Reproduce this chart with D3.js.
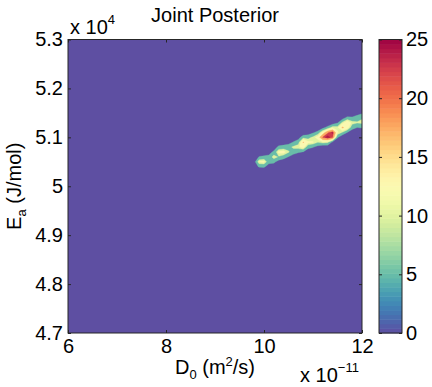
<!DOCTYPE html>
<html>
<head>
<meta charset="utf-8">
<script src="https://cdn.jsdelivr.net/npm/d3@7"></script>
<style>
  body { margin: 0; background: #fff; }
  text { font-family: 'Liberation Sans', Arial, sans-serif; fill: #000; }
  .axis path { display: none; }
  .axis line { stroke: #262626; }
</style>
</head>
<body>
<svg id="chart" width="432" height="387"></svg>
<script>

// axis ticks and labels
var xTicks = [6, 8, 10, 12];
var xTickLabels = ['6', '8', '10', '12'];
var yTicks = [4.7, 4.8, 4.9, 5.0, 5.1, 5.2, 5.3];
var yTickLabels = ['4.7', '4.8', '4.9', '5', '5.1', '5.2', '5.3'];
var cbTicks = [0, 5, 10, 15, 20, 25];

// filled contour levels
var levels = [5, 10, 12.5, 17.5, 22.5, 24];

// posterior density, everything else is 0
// grid spacing: 0.1 (x 1e-11) by 0.01 (x 1e4)
var ridgeX = [9.7, 9.8, 9.9, 10.0, 10.1, 10.2, 10.3, 10.4, 10.5, 10.6, 10.7, 10.8,
  10.9, 11.0, 11.1, 11.2, 11.3, 11.4, 11.5, 11.6, 11.7, 11.8, 11.9, 12.0];
var ridgeY = [5.02, 5.03, 5.04, 5.05, 5.06, 5.07, 5.08, 5.09, 5.10, 5.11, 5.12,
  5.13, 5.14, 5.15, 5.16, 5.17];
// one row per ridgeX, one value per ridgeY
var ridgeZ = [
  [0, 0, 0, 0, 0, 0, 0, 0, 0, 0, 0, 0, 0, 0, 0, 0],
  [0, 0.3, 2.8, 2.8, 0.3, 0, 0, 0, 0, 0, 0, 0, 0, 0, 0, 0],
  [0, 0, 5.5, 13, 5.5, 0, 0, 0, 0, 0, 0, 0, 0, 0, 0, 0],
  [0, 0, 6, 13.5, 6.5, 0, 0, 0, 0, 0, 0, 0, 0, 0, 0, 0],
  [0, 0, 2.3, 6.8, 6.8, 2.3, 0, 0, 0, 0, 0, 0, 0, 0, 0, 0],
  [0, 0, 1.1, 6.5, 12, 6.5, 1.1, 0, 0, 0, 0, 0, 0, 0, 0, 0],
  [0, 0, 0, 2.7, 9.5, 13.6, 6.8, 0, 0, 0, 0, 0, 0, 0, 0, 0],
  [0, 0, 0, 1.3, 7.6, 14, 7.6, 1.3, 0, 0, 0, 0, 0, 0, 0, 0],
  [0, 0, 0, 0, 4.7, 10.5, 8.5, 2.6, 0, 0, 0, 0, 0, 0, 0, 0],
  [0, 0, 0, 0, 2.2, 7.6, 10.9, 5.5, 0, 0, 0, 0, 0, 0, 0, 0],
  [0, 0, 0, 0, 0, 5.9, 11.8, 8.3, 2.4, 0, 0, 0, 0, 0, 0, 0],
  [0, 0, 0, 0, 0, 4.8, 14.3, 18.1, 8.6, 0, 0, 0, 0, 0, 0, 0],
  [0, 0, 0, 0, 0, 0.6, 7, 13.4, 8.3, 1.9, 0, 0, 0, 0, 0, 0],
  [0, 0, 0, 0, 0, 0, 5.5, 12.8, 10.9, 4.1, 0, 0, 0, 0, 0, 0],
  [0, 0, 0, 0, 0, 0, 2.9, 10.2, 14.5, 7.3, 0, 0, 0, 0, 0, 0],
  [0, 0, 0, 0, 0, 0, 1.1, 12, 22.9, 14.2, 3.3, 0, 0, 0, 0, 0],
  [0, 0, 0, 0, 0, 0, 1, 11, 25, 22, 7, 0, 0, 0, 0, 0],
  [0, 0, 0, 0, 0, 0, 0, 3.5, 23, 24.5, 12, 2, 0, 0, 0, 0],
  [0, 0, 0, 0, 0, 0, 0, 0, 5.8, 13.1, 11.6, 4.4, 0, 0, 0, 0],
  [0, 0, 0, 0, 0, 0, 0, 0, 0.9, 9.5, 18.5, 11.2, 2.6, 0, 0, 0],
  [0, 0, 0, 0, 0, 0, 0, 0, 0, 4.9, 15, 16, 6.5, 0, 0, 0],
  [0, 0, 0, 0, 0, 0, 0, 0, 0, 1.6, 7.1, 11.5, 6, 0.5, 0, 0],
  [0, 0, 0, 0, 0, 0, 0, 0, 0, 0, 5, 10.5, 8, 2, 0, 0],
  [0, 0, 0, 0, 0, 0, 0, 0, 0, 0, 5.5, 11, 9.5, 4, 0.5, 0]
];

var svg = d3.select('#chart');

// plot area
var plotL = 68, plotR = 362, plotT = 39.5, plotB = 333;
var fontSize = '20px', smallSize = '13px';

var x = d3.scaleLinear()
  .domain([6, 12])
  .range([plotL, plotR]);

var y = d3.scaleLinear()
  .domain([4.7, 5.3])
  .range([plotB, plotT]);

// colormap, spectral reversed (blue low, red high)
var cmax = 25;
var color = function (v) {
  return d3.interpolateSpectral(1 - v / cmax);
};

// build the full grid (x 6..12, y 4.7..5.3)
var nx = 61, ny = 61;
var grid = new Array(nx * ny).fill(0);
ridgeX.forEach(function (xv, k) {
  var i = Math.round((xv - 6) / 0.1);
  ridgeY.forEach(function (yv, r) {
    var j = Math.round((yv - 4.7) / 0.01);
    grid[j * nx + i] = ridgeZ[k][r];
  });
});

// grid coords -> data coords (value i sits at i + 0.5)
var gx = d3.scaleLinear().domain([0.5, nx - 0.5]).range([6, 12]);
var gy = d3.scaleLinear().domain([0.5, ny - 0.5]).range([4.7, 5.3]);

var path = d3.geoPath(d3.geoTransform({
  point: function (px, py) {
    this.stream.point(x(gx(px)), y(gy(py)));
  }
}));

svg.append('clipPath')
  .attr('id', 'plotclip')
  .append('rect')
  .attr('x', plotL)
  .attr('y', plotT)
  .attr('width', plotR - plotL)
  .attr('height', plotB - plotT);

var plot = svg.append('g')
  .attr('clip-path', 'url(#plotclip)');

// lowest band
plot.append('rect')
  .attr('x', plotL)
  .attr('y', plotT)
  .attr('width', plotR - plotL)
  .attr('height', plotB - plotT)
  .attr('fill', color(0));

var contours = d3.contours()
  .size([nx, ny])
  .thresholds(levels)(grid);

plot.selectAll('path.band')
  .data(contours)
  .enter()
  .append('path')
  .attr('class', 'band')
  .attr('d', path)
  .attr('fill', function (d) { return color(d.value); })
  .attr('stroke', function (d) { return color(d.value); })
  .attr('stroke-width', 0.3);

// axes, ticks inside
var tickFmtX = function (d, i) { return xTickLabels[i]; };
var tickFmtY = function (d, i) { return yTickLabels[i]; };

svg.append('g')
  .attr('class', 'axis')
  .attr('transform', 'translate(0,' + plotB + ')')
  .call(d3.axisBottom(x).tickValues(xTicks).tickSize(-3).tickPadding(6).tickFormat(tickFmtX))
  .selectAll('text')
  .style('font-size', fontSize)
  .attr('fill', '#000');

svg.append('g')
  .attr('class', 'axis')
  .attr('transform', 'translate(0,' + plotT + ')')
  .call(d3.axisTop(x).tickValues(xTicks).tickSize(-3).tickFormat(''));

svg.append('g')
  .attr('class', 'axis')
  .attr('transform', 'translate(' + plotL + ',0)')
  .call(d3.axisLeft(y).tickValues(yTicks).tickSize(-3).tickPadding(5).tickFormat(tickFmtY))
  .selectAll('text')
  .style('font-size', fontSize)
  .attr('fill', '#000');

svg.append('g')
  .attr('class', 'axis')
  .attr('transform', 'translate(' + plotR + ',0)')
  .call(d3.axisRight(y).tickValues(yTicks).tickSize(-3).tickFormat(''));

// box
svg.append('rect')
  .attr('x', plotL)
  .attr('y', plotT)
  .attr('width', plotR - plotL)
  .attr('height', plotB - plotT)
  .attr('fill', 'none')
  .attr('stroke', '#262626')
  .attr('stroke-width', 1);

// title
svg.append('text')
  .attr('x', (plotL + plotR) / 2)
  .attr('y', 22)
  .attr('text-anchor', 'middle')
  .style('font-size', fontSize)
  .text('Joint Posterior');

// exponent labels
var expY = svg.append('text')
  .attr('x', 70)
  .attr('y', 34)
  .style('font-size', fontSize);
expY.append('tspan').text('x 10');
expY.append('tspan')
  .attr('dy', -10)
  .style('font-size', smallSize)
  .text('4');

var expX = svg.append('text')
  .attr('x', 300)
  .attr('y', 382)
  .style('font-size', fontSize);
expX.append('tspan').text('x 10');
expX.append('tspan')
  .attr('dy', -10)
  .style('font-size', smallSize)
  .text('\u221211');

// x label
var xl = svg.append('text')
  .attr('x', (plotL + plotR) / 2)
  .attr('y', 374)
  .attr('text-anchor', 'middle')
  .style('font-size', fontSize);
xl.append('tspan').text('D');
xl.append('tspan').attr('dy', 5).style('font-size', smallSize).text('0');
xl.append('tspan').attr('dy', -5).text(' (m');
xl.append('tspan').attr('dy', -8).style('font-size', smallSize).text('2');
xl.append('tspan').attr('dy', 8).text('/s)');

// y label
var yl = svg.append('text')
  .attr('transform', 'translate(21,' + (plotT + plotB) / 2 + ') rotate(-90)')
  .attr('text-anchor', 'middle')
  .style('font-size', fontSize);
yl.append('tspan').text('E');
yl.append('tspan').attr('dy', 5).style('font-size', smallSize).text('a');
yl.append('tspan').attr('dy', -5).text(' (J/mol)');

// colorbar
var cbLeft = 379, cbRight = 402;
var cy = d3.scaleLinear()
  .domain([0, cmax])
  .range([plotB, plotT]);

var steps = 64;
var cbSteps = d3.range(steps);
svg.append('g')
  .selectAll('rect')
  .data(cbSteps)
  .enter()
  .append('rect')
  .attr('x', cbLeft)
  .attr('y', function (d) { return cy((d + 1) * cmax / steps); })
  .attr('width', cbRight - cbLeft)
  .attr('height', function (d) { return cy(d * cmax / steps) - cy((d + 1) * cmax / steps) + 0.5; })
  .attr('fill', function (d) { return color((d + 0.5) * cmax / steps); });

svg.append('g')
  .attr('class', 'axis')
  .attr('transform', 'translate(' + cbRight + ',0)')
  .call(d3.axisRight(cy).tickValues(cbTicks).tickSize(-3).tickPadding(4))
  .selectAll('text')
  .style('font-size', fontSize)
  .attr('fill', '#000');

svg.append('g')
  .attr('class', 'axis')
  .attr('transform', 'translate(' + cbLeft + ',0)')
  .call(d3.axisLeft(cy).tickValues(cbTicks).tickSize(-3).tickFormat(''));

svg.append('rect')
  .attr('x', cbLeft)
  .attr('y', plotT)
  .attr('width', cbRight - cbLeft)
  .attr('height', plotB - plotT)
  .attr('fill', 'none')
  .attr('stroke', '#262626')
  .attr('stroke-width', 1);

</script>
</body>
</html>
